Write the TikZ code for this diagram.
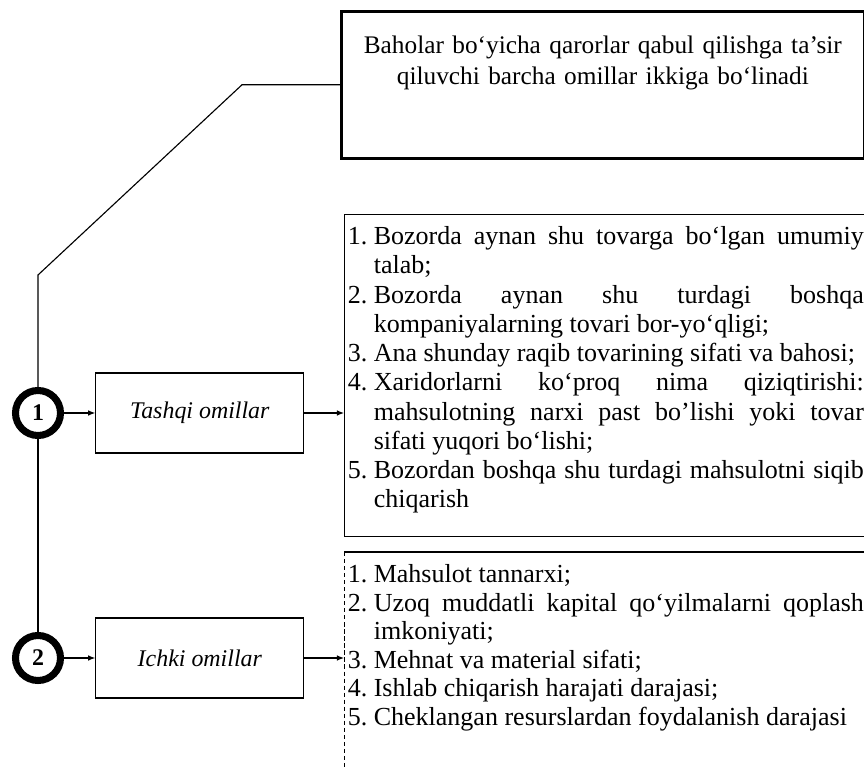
\documentclass[tikz,border=0pt]{standalone}
\usepackage{fontspec}
\setmainfont{Liberation Serif}
\usetikzlibrary{arrows.meta,positioning}
\newcommand{\itm}[1]{\hangindent=1em\hangafter=1\makebox[1em][l]{#1.}}

\begin{document}
\begin{tikzpicture}[
    x=0.025cm, y=-0.025cm,
    >={Latex[length=5pt,width=4pt]},
    line width=0.8pt,
    txt/.style={font=\fontsize{18.5}{20.3}\selectfont},
    numcircle/.style={circle, draw, line width=5pt, minimum size=1.125cm,
                      inner sep=0pt, font=\fontsize{17}{20}\selectfont\bfseries},
    factor/.style={draw, minimum width=5.2cm, minimum height=2cm,
                   font=\fontsize{17}{20}\selectfont\itshape},
    listbox/.style={txt, anchor=north west, text width=12.9cm, align=justify,
                    inner xsep=0.08cm, inner ysep=0.2cm, text height=0.55cm},
  ]
  \useasboundingbox (0,0) rectangle (864,767);
  \clip (0,0) rectangle (864,767);

  % --- top box ---
  \node[draw, line width=1.8pt, anchor=north west, font=\fontsize{18}{22}\selectfont,
        text width=12.575cm, align=center, inner xsep=0.25cm, inner ysep=0.55cm,
        text height=0.5cm, text depth=2.075cm] (root) at (340,10)
    {Baholar bo‘yicha qarorlar qabul qilishga ta’sir\\
     qiluvchi barcha omillar ikkiga bo‘linadi};

  % --- numbered circles and factor boxes ---
  \node[numcircle] (c1) at (38,413) {1};
  \node[numcircle] (c2) at (38,658) {2};

  \node[factor, right=0.78cm of c1] (tashqi) {Tashqi omillar};
  \node[factor, right=0.78cm of c2] (ichki)  {Ichki omillar};

  % --- lists ---
  \node[listbox, draw, font=\fontsize{18.5}{20.8}\selectfont, text depth=7.1cm]
    (tashqiList) at (344,214)
    {\itm{1}Bozorda aynan shu tovarga bo‘lgan umumiy\linebreak talab;\par
     \itm{2}Bozorda aynan shu turdagi boshqa\linebreak kompaniyalarning tovari bor-yo‘qligi;\par
     \itm{3}Ana shunday raqib tovarining sifati va bahosi;\par
     \itm{4}Xaridorlarni ko‘proq nima qiziqtirishi:\linebreak mahsulotning narxi past bo’lishi yoki tovar\linebreak sifati yuqori bo‘lishi;\par
     \itm{5}Bozordan boshqa shu turdagi mahsulotni siqib\linebreak chiqarish\par};

  \node[listbox, text depth=5.2cm] (ichkiList) at (344,552)
    {\itm{1}Mahsulot tannarxi;\par
     \itm{2}Uzoq muddatli kapital qo‘yilmalarni qoplash\linebreak imkoniyati;\par
     \itm{3}Mehnat va material sifati;\par
     \itm{4}Ishlab chiqarish harajati darajasi;\par
     \itm{5}Cheklangan resurslardan foydalanish darajasi\par};
  \draw (ichkiList.north east) -- (ichkiList.north west);
  \draw[densely dashed, line width=0.5pt] (ichkiList.north west) -- (ichkiList.south west);

  % --- trunk ---
  \coordinate (split) at (38,275);
  \draw (root.west) -- ++(-98,0) coordinate (kink) -- (split) -- (c1.north);
  \draw (c1.south) -- (c2.north);

  % --- arrows ---
  \draw[->] (c1) -- (tashqi);
  \draw[->] (c2) -- (ichki);
  \draw[->] (tashqi.east) -- (tashqi.east -| tashqiList.west);
  \draw[->] (ichki.east) -- (ichki.east -| ichkiList.west);

\end{tikzpicture}
\end{document}
